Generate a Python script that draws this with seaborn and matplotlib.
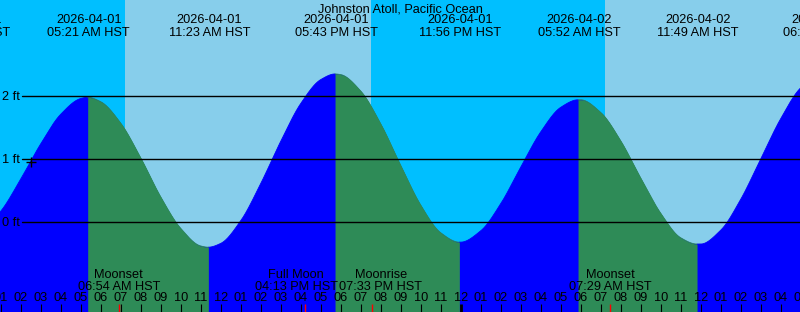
import numpy as np
import pandas as pd
import matplotlib
matplotlib.use("Agg")
import matplotlib.pyplot as plt
import seaborn as sns
from matplotlib.transforms import blended_transform_factory

# ---------------- data ----------------
title = "Johnston Atoll, Pacific Ocean"
base_day = "2026-04-01"

# tide extremes (date, local time, height in ft)
tide_dates = ["2026-03-31", "2026-04-01", "2026-04-01", "2026-04-01",
              "2026-04-01", "2026-04-02", "2026-04-02", "2026-04-02"]
tide_times = ["11:21 PM", "05:21 AM", "11:23 AM", "05:43 PM",
              "11:56 PM", "05:52 AM", "11:49 AM", "06:08 PM"]
tide_heights = [-0.20, 1.98, -0.40, 2.35, -0.32, 1.94, -0.35, 2.36]

# hourly water level (hours after 2026-04-01 00:00)
hourly_hours = list(range(0, 43))
hourly_heights = [-0.15, 0.17, 0.68, 1.24, 1.71, 1.96, 1.91, 1.57, 1.02, 0.40,
                  -0.10, -0.38, -0.34, 0.02, 0.61, 1.28, 1.88, 2.26, 2.34, 2.08,
                  1.56, 0.90, 0.27, -0.17, -0.32, -0.14, 0.29, 0.87, 1.43, 1.82,
                  1.94, 1.74, 1.29, 0.70, 0.14, -0.25, -0.35, -0.13, 0.36, 1.00,
                  1.64, 2.13, 2.35]

# moon events
moon_dates = ["2026-04-01", "2026-04-01", "2026-04-01", "2026-04-02"]
moon_times = ["06:54 AM", "04:13 PM", "07:33 PM", "07:29 AM"]
moon_names = ["Moonset", "Full Moon", "Moonrise", "Moonset"]

# daylight (sunrise, sunset)
sun_rise = ["2026-04-01 07:12 AM", "2026-04-02 07:12 AM"]
sun_set = ["2026-04-01 07:30 PM", "2026-04-02 07:30 PM"]

# marker on the curve
mark_hour = 2.5
mark_height = 0.96

ft_levels = [0, 1, 2]
ft_labels = ["0 ft", "1 ft", "2 ft"]
tz = "HST"

# ---------------- helpers ----------------
t0 = pd.Timestamp(base_day)


def to_hours(stamp):
    return (pd.to_datetime(stamp, format="%Y-%m-%d %I:%M %p") - t0) / pd.Timedelta(hours=1)


tide_hours = [to_hours(f"{d} {t}") for d, t in zip(tide_dates, tide_times)]
moon_hours = [to_hours(f"{d} {t}") for d, t in zip(moon_dates, moon_times)]
day_spans = [(to_hours(r), to_hours(s)) for r, s in zip(sun_rise, sun_set)]

# merge hourly readings with extremes
curve = pd.DataFrame({"hour": list(hourly_hours) + tide_hours,
                      "height": list(hourly_heights) + tide_heights})
curve = curve.sort_values("hour").drop_duplicates("hour").reset_index(drop=True)


def smooth_line(x, y, xq):
    """Monotone cubic (Fritsch-Carlson) drawing of the read points."""
    x = np.asarray(x, float)
    y = np.asarray(y, float)
    h = np.diff(x)
    d = np.diff(y) / h
    m = np.zeros_like(y)
    m[0], m[-1] = d[0], d[-1]
    for k in range(1, len(x) - 1):
        if d[k - 1] * d[k] <= 0:
            m[k] = 0.0
        else:
            w1 = 2 * h[k] + h[k - 1]
            w2 = h[k] + 2 * h[k - 1]
            m[k] = (w1 + w2) / (w1 / d[k - 1] + w2 / d[k])
    i = np.clip(np.searchsorted(x, xq, side="right") - 1, 0, len(x) - 2)
    t = (xq - x[i]) / h[i]
    h00 = 2 * t**3 - 3 * t**2 + 1
    h10 = t**3 - 2 * t**2 + t
    h01 = -2 * t**3 + 3 * t**2
    h11 = t**3 - t**2
    return h00 * y[i] + h10 * h[i] * m[i] + h01 * y[i + 1] + h11 * h[i] * m[i + 1]


rows = []
for k in range(len(tide_hours) - 1):
    ta, tb = tide_hours[k], tide_hours[k + 1]
    xs = np.linspace(ta, tb, 300)
    ys = smooth_line(curve.hour.values, curve.height.values, xs)
    rows.append(pd.DataFrame({
        "hour": xs, "height": ys, "segment": k,
        "phase": "rising" if tide_heights[k + 1] > tide_heights[k] else "falling"}))
df = pd.concat(rows, ignore_index=True)

# ---------------- style ----------------
NIGHT = "#00BFFF"
DAY = "#87CEEB"
RISE = "#0000FF"
FALL = "#2E8B57"

sns.set_theme(style="white")
plt.rcParams["font.family"] = ["Liberation Sans", "DejaVu Sans"]
FS = 9.2

W, H = 800, 312
fig = plt.figure(figsize=(8, 3.12), dpi=100)
ax = fig.add_axes([0, 0, 1, 1])
ax.set_axis_off()

px_per_hour = 20.0
xstart = 0.965
ft_px, zero_px = 63.0, 222.0
ybot = -(H - zero_px) / ft_px

tr = blended_transform_factory(ax.transData, ax.transAxes)


def yfrac(px):
    return 1 - px / H


# sky
ax.axvspan(xstart - 5, xstart + 45, color=NIGHT, lw=0, zorder=0)
for a, b in day_spans:
    ax.axvspan(a, b, color=DAY, lw=0, zorder=0.5)

# water
ax.fill_between(df.hour, df.height, ybot, color=RISE, lw=0, zorder=1)
for k, seg in df.groupby("segment"):
    if seg.phase.iloc[0] == "falling":
        ax.fill_between(seg.hour, seg.height, ybot, color=FALL, lw=0, zorder=1.5)

sns.lineplot(data=df, x="hour", y="height", hue="phase", units="segment",
             estimator=None, palette={"rising": RISE, "falling": FALL},
             legend=False, lw=0.6, ax=ax, zorder=2)
ax.set_xlim(xstart, xstart + W / px_per_hour)
ax.set_ylim(ybot, zero_px / ft_px)

# level lines and labels
for lv, lab in zip(ft_levels, ft_labels):
    ax.axhline(lv, xmin=22 / W, xmax=1, color="black", lw=1.0, zorder=3)
    ax.annotate(lab, xy=(2 / W, lv), xycoords=("axes fraction", "data"),
                xytext=(0, -4), textcoords="offset pixels",
                ha="left", va="baseline", fontsize=FS, color="black", zorder=4)

# marker
sns.scatterplot(x=[mark_hour], y=[mark_height], marker="+", s=48, color="black",
                linewidth=1.0, ax=ax, zorder=4, legend=False)
ax.set_xlim(xstart, xstart + W / px_per_hour)
ax.set_ylim(ybot, zero_px / ft_px)

# title
ax.text(0.5, yfrac(12), title, transform=ax.transAxes, ha="center", va="baseline",
        fontsize=FS, color="black", zorder=4)

# tide event labels
for th, d, t in zip(tide_hours, tide_dates, tide_times):
    ax.text(th + 0.05, yfrac(23), d, transform=tr, ha="center", va="baseline",
            fontsize=FS, color="black", zorder=4)
    ax.text(th + 0.05, yfrac(35.5), f"{t} {tz}", transform=tr, ha="center",
            va="baseline", fontsize=FS, color="black", zorder=4)

# moon event labels (nudged apart where they would collide)
moon_nudge_px = [0, -9, 9, 0]
for mh, nm, t, nd in zip(moon_hours, moon_names, moon_times, moon_nudge_px):
    xx = mh + nd / px_per_hour
    ax.text(xx, yfrac(278), nm, transform=tr, ha="center", va="baseline",
            fontsize=FS, color="black", zorder=4)
    ax.text(xx, yfrac(290), f"{t} {tz}", transform=tr, ha="center", va="baseline",
            fontsize=FS, color="black", zorder=4)

# hour ticks and labels
tick_hours = np.arange(1, 42)
for hr in tick_hours:
    lab = f"{(hr % 12) or 12:02d}"
    ax.text(hr, yfrac(301), lab, transform=tr, ha="center", va="baseline",
            fontsize=FS, color="black", zorder=4)
    lw = 2.0 if hr % 24 == 0 else 0.8
    ax.plot([hr, hr], [yfrac(304), yfrac(312)], transform=tr, color="black",
            lw=lw, solid_capstyle="butt", zorder=3)
for mh in moon_hours:
    ax.plot([mh, mh], [yfrac(304), yfrac(312)], transform=tr, color="#FF0000",
            lw=1.0, solid_capstyle="butt", zorder=3.5)

fig.savefig("out.png", dpi=100)
